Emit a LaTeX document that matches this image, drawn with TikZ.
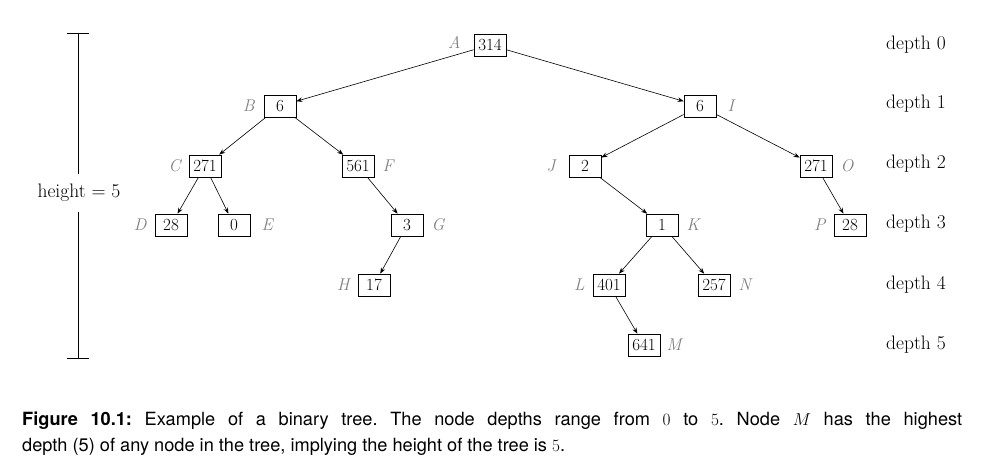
\documentclass[tikz,border=0pt]{standalone}
\usepackage{fontspec}
\setsansfont{TeX Gyre Heros}
\usetikzlibrary{arrows.meta}
\begin{document}
\begin{tikzpicture}[x=1pt,y=-1pt,
  tn/.style={draw, line width=0.7pt, minimum width=32pt, minimum height=22pt, inner xsep=2.5pt, inner ysep=1pt, font=\fontsize{17}{18}\selectfont},
  lbl/.style={text=black!50, inner sep=0pt, font=\fontsize{17}{18}\selectfont\itshape},
  edge/.style={-{Stealth[length=6pt,width=4.5pt]}, line width=0.6pt},
  dl/.style={anchor=west, inner sep=0pt, font=\fontsize{19.5}{22}\selectfont},
  capt/.style={anchor=north west, inner sep=0pt, text width=940pt, align=justify, font=\fontsize{18.2}{26}\selectfont\sffamily}]
\useasboundingbox (0,0) rectangle (987,467);
% tree nodes
\node[tn] (A) at (490,45) {314};
\node[tn] (B) at (280,106) {6};
\node[tn] (I) at (700,106) {6};
\node[tn] (C) at (205,166) {271};
\node[tn] (F) at (358,166) {561};
\node[tn] (J) at (585,166) {2};
\node[tn] (O) at (816,166) {271};
\node[tn] (D) at (171,225) {28};
\node[tn] (E) at (234,225) {0};
\node[tn] (G) at (407,225) {3};
\node[tn] (K) at (662,225) {1};
\node[tn] (P) at (850,225) {28};
\node[tn] (H) at (374,285) {17};
\node[tn] (L) at (609,285) {401};
\node[tn] (N) at (714,285) {257};
\node[tn] (M) at (644,345) {641};
% letter labels
\node[lbl, anchor=east] (lA) at ([xshift=-13pt,yshift=3pt]A.west) {A};
\node[lbl, anchor=east] (lB) at ([xshift=-9pt]B.west) {B};
\node[lbl, anchor=west] (lI) at ([xshift=11pt]I.east) {I};
\node[lbl, anchor=east] (lC) at ([xshift=-8pt]C.west) {C};
\node[lbl, anchor=west] (lF) at ([xshift=8pt]F.east) {F};
\node[lbl, anchor=east] (lJ) at ([xshift=-13pt]J.west) {J};
\node[lbl, anchor=west] (lO) at ([xshift=8pt]O.east) {O};
\node[lbl, anchor=east] (lD) at ([xshift=-8pt]D.west) {D};
\node[lbl, anchor=west] (lE) at ([xshift=11pt]E.east) {E};
\node[lbl, anchor=west] (lG) at ([xshift=8pt]G.east) {G};
\node[lbl, anchor=west] (lK) at ([xshift=8pt]K.east) {K};
\node[lbl, anchor=east] (lP) at ([xshift=-8pt]P.west) {P};
\node[lbl, anchor=east] (lH) at ([xshift=-8pt]H.west) {H};
\node[lbl, anchor=east] (lL) at ([xshift=-8pt]L.west) {L};
\node[lbl, anchor=west] (lN) at ([xshift=8pt]N.east) {N};
\node[lbl, anchor=west] (lM) at ([xshift=6pt]M.east) {M};
% edges
\draw[edge] (A) -- (B);
\draw[edge] (A) -- (I);
\draw[edge] (B) -- (C);
\draw[edge] (B) -- (F);
\draw[edge] (I) -- (J);
\draw[edge] (I) -- (O);
\draw[edge] (C) -- (D);
\draw[edge] (C) -- (E);
\draw[edge] (F) -- (G);
\draw[edge] (J) -- (K);
\draw[edge] (O) -- (P);
\draw[edge] (G) -- (H);
\draw[edge] (K) -- (L);
\draw[edge] (K) -- (N);
\draw[edge] (L) -- (M);
% depth labels
\node[dl] (d0) at (886,45) {depth 0};
\node[dl] (d1) at (886,104) {depth 1};
\node[dl] (d2) at (886,164) {depth 2};
\node[dl] (d3) at (886,224) {depth 3};
\node[dl] (d4) at (886,285) {depth 4};
\node[dl] (d5) at (886,345) {depth 5};
% height bar
\node[font=\fontsize{19.5}{22}\selectfont, inner sep=0pt] (ht) at (79,193) {height = 5};
\coordinate (htop) at (78,33);
\coordinate (hbot) at (78,358);
\draw[line width=0.8pt] (htop) -- ([yshift=10pt]ht.north -| htop);
\draw[line width=0.8pt] ([yshift=-10pt]ht.south -| hbot) -- (hbot);
\draw[line width=0.8pt] ([xshift=-11pt]htop) -- ([xshift=11pt]htop);
\draw[line width=0.8pt] ([xshift=-11pt]hbot) -- ([xshift=11pt]hbot);
% caption
\node[capt] (cap) at (22,412) {\frenchspacing\textbf{Figure 10.1:} Example of a binary tree. The node depths range from $0$ to $5$. Node $M$ has the highest\linebreak depth (5) of any node in the tree, implying the height of the tree is $5$.};
\end{tikzpicture}
\end{document}
